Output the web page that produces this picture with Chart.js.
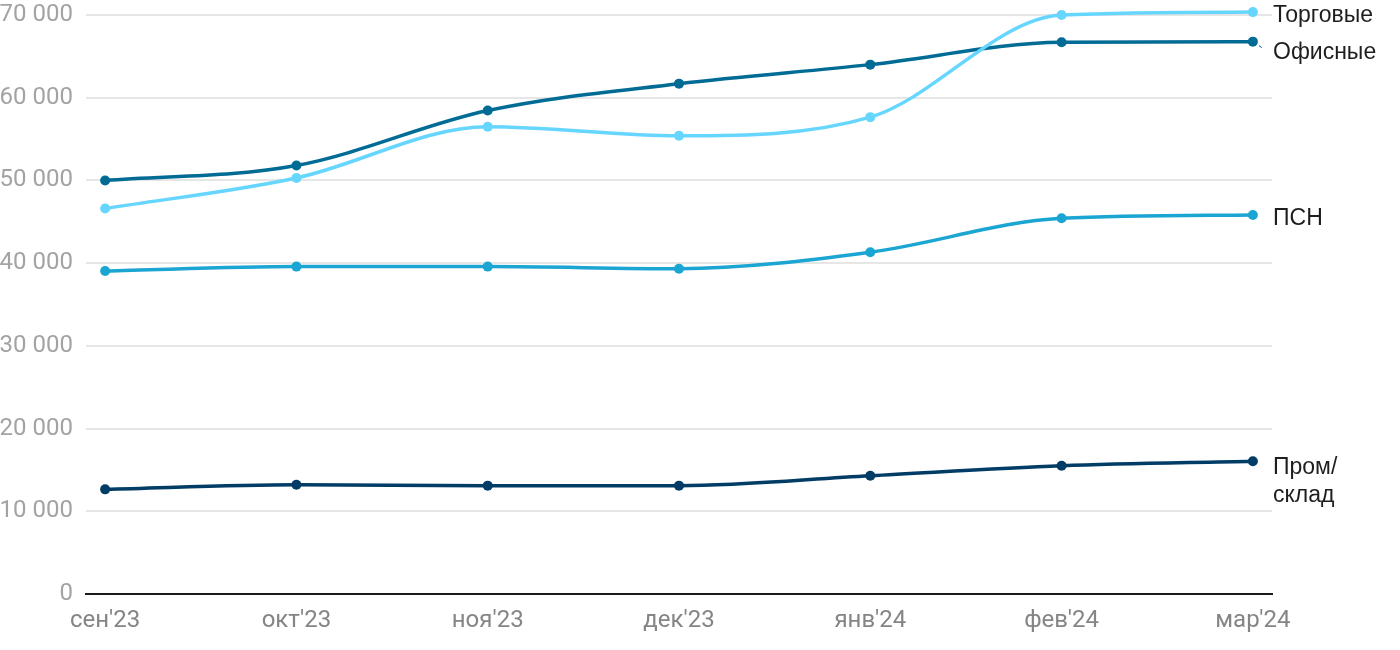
<!DOCTYPE html>
<html lang="ru">
<head>
<meta charset="utf-8">
<script src="https://cdn.jsdelivr.net/npm/chart.js@4"></script>
<style>
  html, body { margin: 0; padding: 0; background: #fff; }
  #wrap { width: 1400px; height: 650px; }
</style>
</head>
<body>
<div id="wrap"><canvas id="lineChart" width="1400" height="650"></canvas></div>
<script>
// Données
const mois = ["сен'23", "окт'23", "ноя'23", "дек'23", "янв'24", "фев'24", "мар'24"];
const torgovye = [46600, 50300, 56500, 55400, 57650, 70000, 70350];
const ofisnye = [50000, 51800, 58450, 61700, 64000, 66700, 66780];
const psn = [39050, 39580, 39580, 39330, 41320, 45430, 45830];
const promSklad = [12650, 13200, 13100, 13100, 14300, 15500, 16050];
const yTicks = [0, 10000, 20000, 30000, 40000, 50000, 60000, 70000];

const toPoints = arr => arr.map((v, i) => ({ x: i, y: v }));

function serie(label, data, color, labelLines, labelDy) {
  return {
    label,
    data: toPoints(data),
    borderColor: color,
    backgroundColor: color,
    borderWidth: 3.5,
    pointRadius: 5,
    pointHoverRadius: 5,
    pointBorderWidth: 0,
    cubicInterpolationMode: "monotone",
    clip: false,
    labelLines,
    labelDy
  };
}

// Étiquettes à droite des courbes
const endLabels = {
  id: "endLabels",
  afterDatasetsDraw(chart) {
    const ctx = chart.ctx;
    ctx.save();
    ctx.font = "23px 'Liberation Sans', Arial, sans-serif";
    ctx.fillStyle = "#1e1e1e";
    ctx.textBaseline = "middle";
    chart.data.datasets.forEach((ds, i) => {
      const pts = chart.getDatasetMeta(i).data;
      const last = pts[pts.length - 1];
      const x = chart.chartArea.right + 1;
      const y = last.y + ds.labelDy;
      if (ds.labelLines.length === 1 && ds.labelDy > 6) {
        ctx.strokeStyle = ds.borderColor;
        ctx.lineWidth = 1;
        ctx.beginPath();
        ctx.moveTo(last.x + 6, last.y + 4);
        ctx.lineTo(last.x + 9, last.y + 6);
        ctx.stroke();
      }
      const h = 28;
      const y0 = y - (ds.labelLines.length - 1) * h / 2;
      ds.labelLines.forEach((t, k) => ctx.fillText(t, x, y0 + k * h));
    });
    ctx.restore();
  }
};

const ctx = document.getElementById("lineChart").getContext("2d");
new Chart(ctx, {
  type: "line",
  data: {
    datasets: [
      serie("Торговые", torgovye, "#66d6ff", ["Торговые"], 4),
      serie("Офисные", ofisnye, "#006c96", ["Офисные"], 11),
      serie("ПСН", psn, "#1ba5d2", ["ПСН"], 4),
      serie("Пром/склад", promSklad, "#003c65", ["Пром/", "склад"], 20)
    ]
  },
  options: {
    responsive: false,
    animation: false,
    layout: { padding: { top: 15, right: 128, left: 0, bottom: 0 } },
    plugins: {
      legend: { display: false },
      tooltip: { enabled: false }
    },
    scales: {
      x: {
        type: "linear",
        min: -0.1,
        max: 6.1,
        afterBuildTicks: scale => { scale.ticks = mois.map((m, i) => ({ value: i })); },
        afterFit: scale => { scale.height = 56; scale.paddingLeft = 0; scale.paddingRight = 0; },
        grid: { display: false, drawTicks: false },
        border: { display: true, color: "#1a1a1a", width: 2 },
        ticks: {
          padding: 13,
          maxRotation: 0,
          autoSkip: false,
          color: "#858585",
          font: { family: "Roboto", size: 24 },
          callback: v => mois[v]
        }
      },
      y: {
        min: 0,
        max: 70000,
        afterBuildTicks: scale => { scale.ticks = yTicks.map(v => ({ value: v })); },
        afterFit: scale => { scale.width = 86; scale.paddingTop = 0; scale.paddingBottom = 0; },
        grid: {
          color: ctx => ctx.tick.value === 0 ? "rgba(0,0,0,0)" : "#e6e6e6",
          lineWidth: 2,
          drawTicks: false
        },
        border: { display: false },
        ticks: {
          padding: 13,
          color: "#a3a3a3",
          font: { family: "Roboto", size: 24 },
          callback: v => v.toString().replace(/\B(?=(\d{3})+(?!\d))/g, " ")
        }
      }
    }
  },
  plugins: [endLabels]
});
</script>
</body>
</html>
